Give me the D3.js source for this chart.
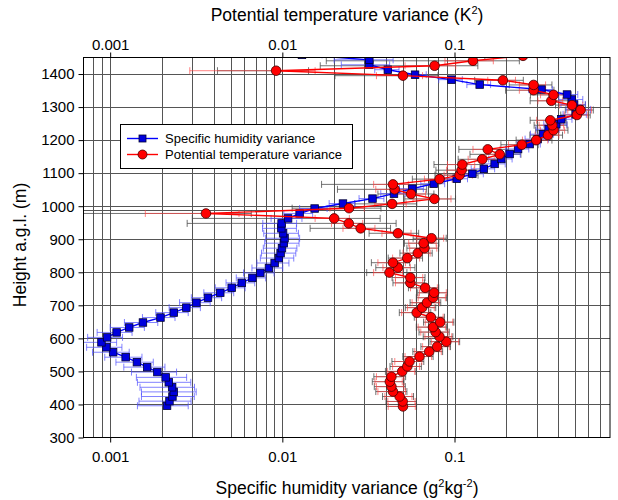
<!DOCTYPE html>
<html>
<head>
<meta charset="utf-8">
<script src="https://cdn.jsdelivr.net/npm/d3@7"></script>
<style>
  body { margin: 0; background: #fff; }
  svg text { font-family: "Liberation Sans", Arial, sans-serif; fill: #000; }
</style>
</head>
<body>
<svg width="618" height="500"></svg>
<script>
// specific humidity variance (g2 kg-2), blue squares
const qHeights = [396, 410, 424, 438, 452, 467, 482, 498, 513, 528, 543, 558, 573, 588, 603, 618, 633, 648, 663, 678,
  693, 708, 723, 738, 753, 768, 783, 798, 813, 828, 843, 858, 873, 888, 903, 918, 933, 948, 963, 978,
  993, 1008, 1023, 1038, 1053, 1068, 1083, 1098, 1113, 1128, 1143, 1158, 1173, 1188, 1203, 1218, 1233, 1248, 1263, 1278,
  1293, 1308, 1323, 1338, 1353, 1368, 1383, 1398, 1413, 1428, 1443, 1458];
const qVar = [0.00214, 0.00221, 0.00230, 0.00234, 0.00229, 0.00219, 0.00210, 0.00188, 0.00164, 0.00143, 0.00123, 0.00104, 0.00095, 0.00089, 0.00096, 0.00109, 0.00129, 0.00155, 0.00196, 0.00234,
  0.00277, 0.00317, 0.00370, 0.00436, 0.00508, 0.00581, 0.00670, 0.00745, 0.00836, 0.00902, 0.00955, 0.00977, 0.00995, 0.0102, 0.0103, 0.0101, 0.00987, 0.0099, 0.0108, 0.0126,
  0.0154, 0.0225, 0.0334, 0.0445, 0.0569, 0.0757, 0.103, 0.127, 0.148, 0.171, 0.187, 0.209, 0.234, 0.273, 0.304, 0.326, 0.352, 0.390, 0.417, 0.505,
  0.530, 0.495, 0.480, 0.450, 0.320, 0.140, 0.096, 0.059, 0.041, 0.032, 0.032, 0.013];
const qErr = [0.00070, 0.00074, 0.00078, 0.00082, 0.00080, 0.00075, 0.00068, 0.00055, 0.00044, 0.00035, 0.00030, 0.00025, 0.00022, 0.00020, 0.00022, 0.00025, 0.00029, 0.00034, 0.00042, 0.00050,
  0.00057, 0.00064, 0.00074, 0.00086, 0.00100, 0.0011, 0.0013, 0.0015, 0.0017, 0.0019, 0.0021, 0.0022, 0.0022, 0.0023, 0.0023, 0.0023, 0.0022, 0.0022, 0.0022, 0.0024,
  0.0028, 0.0038, 0.0055, 0.0072, 0.009, 0.012, 0.016, 0.020, 0.023, 0.026, 0.029, 0.032, 0.036, 0.042, 0.047, 0.050, 0.054, 0.060, 0.064, 0.078,
  0.085, 0.080, 0.076, 0.070, 0.050, 0.022, 0.015, 0.0095, 0.0066, 0.010, 0.012, 0.004];

// potential temperature variance (K2), red circles
const tHeights = [394, 409, 424, 439, 454, 469, 484, 500, 515, 530, 545, 560, 575, 590, 605, 619, 634, 649, 664, 678,
  693, 708, 723, 738, 753, 768, 784, 799, 814, 829, 843, 858, 873, 888, 903, 918, 933, 948, 963, 978,
  994, 1007, 1022, 1037, 1051, 1066, 1082, 1094, 1109, 1126, 1142, 1157, 1172, 1186, 1200, 1215, 1230, 1245, 1260, 1276,
  1291, 1306, 1319, 1337, 1351, 1367, 1381, 1395, 1410, 1425, 1440, 1455];
const tVar = [0.0502, 0.0500, 0.0480, 0.0439, 0.0430, 0.0421, 0.0430, 0.0497, 0.0532, 0.0548, 0.0626, 0.0713, 0.0793, 0.0896, 0.0818, 0.0777, 0.0750, 0.0826, 0.0729, 0.0603,
  0.0648, 0.0692, 0.0750, 0.0761, 0.0675, 0.0554, 0.0554, 0.0419, 0.0469, 0.0439, 0.0532, 0.0612, 0.0669, 0.0662, 0.0735, 0.0469, 0.0285, 0.0243, 0.0200, 0.0036,
  0.0244, 0.0434, 0.0764, 0.0559, 0.0449, 0.0439, 0.0819, 0.107, 0.110, 0.111, 0.145, 0.183, 0.156, 0.246, 0.298, 0.349, 0.376, 0.370, 0.360, 0.514,
  0.540, 0.481, 0.365, 0.376, 0.288, 0.288, 0.191, 0.0502, 0.0092, 0.0766, 0.128, 0.25];
const tErr = [0.0090, 0.0090, 0.0086, 0.0080, 0.0078, 0.0076, 0.0078, 0.0090, 0.0095, 0.0098, 0.0110, 0.0125, 0.0140, 0.0160, 0.0145, 0.0140, 0.0135, 0.0150, 0.0130, 0.0110,
  0.0115, 0.0125, 0.0135, 0.0135, 0.0120, 0.0100, 0.0100, 0.0080, 0.0085, 0.0080, 0.0095, 0.0110, 0.0120, 0.0120, 0.0130, 0.0090, 0.0060, 0.0050, 0.0045, 0.0020,
  0.0055, 0.0090, 0.0190, 0.0120, 0.0100, 0.0100, 0.0150, 0.020, 0.020, 0.020, 0.025, 0.030, 0.028, 0.040, 0.050, 0.055, 0.060, 0.060, 0.060, 0.080,
  0.085, 0.075, 0.060, 0.060, 0.050, 0.050, 0.035, 0.015, 0.0063, 0.025, 0.040, 0.050];
const tErrGrey = [0.0100, 0.0100, 0.0098, 0.0090, 0.0088, 0.0088, 0.0090, 0.0100, 0.0110, 0.0115, 0.0125, 0.0140, 0.0155, 0.0175, 0.0160, 0.0155, 0.0150, 0.0165, 0.0145, 0.0125,
  0.0130, 0.0140, 0.0150, 0.0150, 0.0135, 0.0115, 0.0120, 0.0110, 0.0120, 0.0110, 0.0120, 0.0130, 0.0140, 0.0150, 0.0160, 0.0150, 0.0140, 0.0215, 0.0170, 0.0030,
  0.0130, 0.0170, 0.0250, 0.0200, 0.0240, 0.0270, 0.0250, 0.030, 0.032, 0.035, 0.040, 0.060, 0.050, 0.060, 0.070, 0.075, 0.080, 0.080, 0.085, 0.100,
  0.100, 0.095, 0.090, 0.100, 0.090, 0.080, 0.060, 0.030, 0.005, 0.060, 0.110, 0.100];

const xTicks = [0.001, 0.01, 0.1];
const yTicks = [300, 400, 500, 600, 700, 800, 900, 1000, 1100, 1200, 1300, 1400];
const extraRule = [990];

const svg = d3.select("svg");
const pLeft = 83.5, pRight = 610, pTop = 57.5, pBottom = 437.5;

const x = d3.scaleLog().domain([0.0007, 0.8]).range([pLeft, pRight]);
const y = d3.scaleLinear().domain([300, 1450]).range([pBottom, pTop]);

svg.append("defs").append("clipPath").attr("id", "plot")
  .append("rect").attr("x", pLeft).attr("y", pTop).attr("width", pRight - pLeft).attr("height", pBottom - pTop);

// grid
const grid = svg.append("g").attr("stroke", "#555").attr("stroke-width", 1);
grid.selectAll(".vx")
  .data(x.ticks().filter(d => x(d) > pLeft + 1 && x(d) < pRight - 1))
  .join("line")
  .attr("x1", d => Math.round(x(d)) + 0.5).attr("x2", d => Math.round(x(d)) + 0.5)
  .attr("y1", pTop).attr("y2", pBottom);
grid.selectAll(".hy")
  .data(yTicks.concat(extraRule).filter(d => d > 300))
  .join("line")
  .attr("x1", pLeft).attr("x2", pRight)
  .attr("y1", d => Math.round(y(d)) + 0.5).attr("y2", d => Math.round(y(d)) + 0.5);

const plot = svg.append("g").attr("clip-path", "url(#plot)");

function errorBars(g, hs, vs, es, color, opacity) {
  const lo = (v, e) => x(Math.max(v - e, x.domain()[0]));
  const hi = (v, e) => x(v + e);
  const data = hs.map((h, i) => ({ h, v: vs[i], e: es[i] }));
  const eg = g.append("g").attr("stroke", color).attr("stroke-opacity", opacity).attr("stroke-width", 1);
  eg.selectAll(".bar").data(data).join("line")
    .attr("x1", d => lo(d.v, d.e)).attr("x2", d => hi(d.v, d.e))
    .attr("y1", d => y(d.h)).attr("y2", d => y(d.h));
  eg.selectAll(".capl").data(data.filter(d => d.v - d.e > x.domain()[0])).join("line")
    .attr("x1", d => lo(d.v, d.e)).attr("x2", d => lo(d.v, d.e))
    .attr("y1", d => y(d.h) - 3.5).attr("y2", d => y(d.h) + 3.5);
  eg.selectAll(".capr").data(data).join("line")
    .attr("x1", d => hi(d.v, d.e)).attr("x2", d => hi(d.v, d.e))
    .attr("y1", d => y(d.h) - 3.5).attr("y2", d => y(d.h) + 3.5);
}

errorBars(plot, tHeights, tVar, tErrGrey, "#444", 0.75);
errorBars(plot, qHeights, qVar, qErr, "#4d4dff", 0.7);
errorBars(plot, tHeights, tVar, tErr, "#ff4040", 0.65);

const line = d3.line().x(d => x(d[1])).y(d => y(d[0]));
const qPts = qHeights.map((h, i) => [h, qVar[i]]);
const tPts = tHeights.map((h, i) => [h, tVar[i]]);

plot.append("path").datum(qPts).attr("d", line)
  .attr("fill", "none").attr("stroke", "#0000ff").attr("stroke-width", 1.4);
plot.selectAll(".sq").data(qPts).join("rect")
  .attr("x", d => x(d[1]) - 3.75).attr("y", d => y(d[0]) - 3.75)
  .attr("width", 7.5).attr("height", 7.5)
  .attr("fill", "#0000dd").attr("stroke", "#000033").attr("stroke-width", 0.8);

plot.append("path").datum(tPts).attr("d", line)
  .attr("fill", "none").attr("stroke", "#ff0000").attr("stroke-width", 1.4);
plot.selectAll(".ci").data(tPts).join("circle")
  .attr("cx", d => x(d[1])).attr("cy", d => y(d[0])).attr("r", 4.8)
  .attr("fill", "#ff0000").attr("stroke", "#440000").attr("stroke-width", 0.8);

// frame
svg.append("rect").attr("x", pLeft).attr("y", pTop).attr("width", pRight - pLeft).attr("height", pBottom - pTop)
  .attr("fill", "none").attr("stroke", "#000").attr("stroke-width", 1);

// axes
const fmt = d3.format("");
const xb = svg.append("g").attr("transform", `translate(0,${pBottom})`)
  .call(d3.axisBottom(x).tickValues(xTicks).tickFormat(fmt).tickSize(5).tickSizeOuter(0));
const xt = svg.append("g").attr("transform", `translate(0,${pTop})`)
  .call(d3.axisTop(x).tickValues(xTicks).tickFormat(fmt).tickSize(5).tickSizeOuter(0));
const yl = svg.append("g").attr("transform", `translate(${pLeft},0)`)
  .call(d3.axisLeft(y).tickValues(yTicks).tickFormat(d3.format("d")).tickSize(5).tickSizeOuter(0));
[xb, xt, yl].forEach(a => {
  a.select(".domain").remove();
  a.selectAll("text").attr("font-size", 15).attr("font-family", null);
});
xb.selectAll("text").attr("dy", "1.1em");
yl.selectAll("text").attr("x", -9);

svg.append("text").attr("x", 347).attr("y", 494).attr("text-anchor", "middle").attr("font-size", 17.5)
  .html('Specific humidity variance (g<tspan dy="-7" font-size="11">2</tspan><tspan dy="7">kg</tspan><tspan dy="-7" font-size="11">-2</tspan><tspan dy="7">)</tspan>');
svg.append("text").attr("x", 347).attr("y", 21).attr("text-anchor", "middle").attr("font-size", 17.5)
  .html('Potential temperature variance (K<tspan dy="-7" font-size="11">2</tspan><tspan dy="7">)</tspan>');
svg.append("text").attr("transform", "translate(26,245) rotate(-90)").attr("text-anchor", "middle")
  .attr("font-size", 17.5).text("Height a.g.l. (m)");

// legend
const legend = svg.append("g");
legend.append("rect").attr("x", 120.5).attr("y", 124.5).attr("width", 232).attr("height", 44)
  .attr("fill", "#fff").attr("stroke", "#000").attr("stroke-width", 1);
const items = [
  { label: "Specific humidity variance", color: "#0000ff", shape: "square", cy: 138.5 },
  { label: "Potential temperature variance", color: "#ff0000", shape: "circle", cy: 154.5 }
];
items.forEach(it => {
  legend.append("line").attr("x1", 127).attr("x2", 158).attr("y1", it.cy).attr("y2", it.cy)
    .attr("stroke", it.color).attr("stroke-width", 1.4);
  if (it.shape === "square") {
    legend.append("rect").attr("x", 139).attr("y", it.cy - 3.5).attr("width", 7).attr("height", 7)
      .attr("fill", "#0000dd").attr("stroke", "#000033").attr("stroke-width", 0.8);
  } else {
    legend.append("circle").attr("cx", 142.5).attr("cy", it.cy).attr("r", 4.5)
      .attr("fill", "#ff0000").attr("stroke", "#440000").attr("stroke-width", 0.8);
  }
  legend.append("text").attr("x", 165).attr("y", it.cy + 4.5).attr("font-size", 13).text(it.label);
});
</script>
</body>
</html>
